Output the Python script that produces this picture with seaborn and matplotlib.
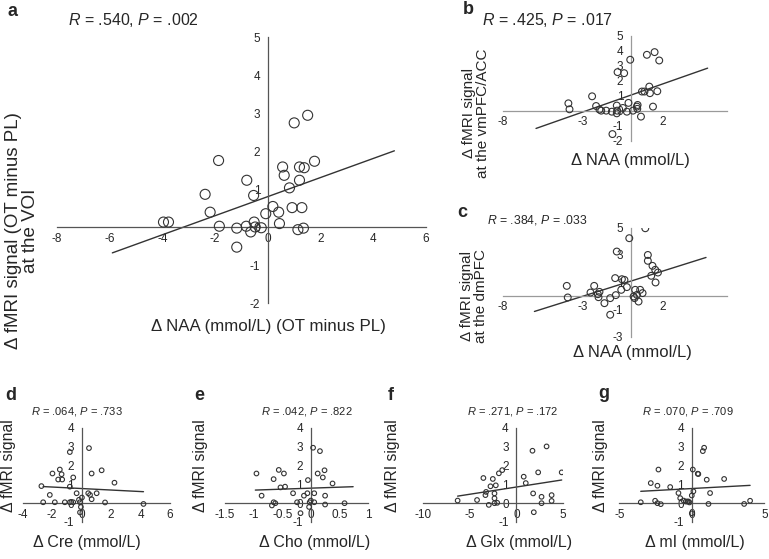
import numpy as np
import matplotlib
matplotlib.use("Agg")
import matplotlib.pyplot as plt
import seaborn as sns

# Panel a: NAA vs fMRI signal at the VOI
a_x = [-3.96, -3.77, -2.38, -2.19, -1.87, -1.84, -1.18, -1.18, -0.80, -0.82, -0.54, -0.52, -0.65, -0.48, -0.25, -0.08,
       0.19, 0.41, 0.44, 0.56, 0.62, 0.82, 0.92, 1.00, 1.14, 1.20, 1.20, 1.29, 1.35, 1.38, 1.51, 1.77]
a_y = [0.13, 0.13, 0.86, 0.39, 1.75, 0.02, -0.03, -0.53, 1.23, 0.02, 0.83, 0.13, -0.13, 0.00, -0.02, 0.35,
       0.54, 0.39, 0.09, 1.58, 1.36, 1.03, 0.51, 2.74, -0.07, 1.58, 1.23, 0.51, -0.03, 1.56, 2.94, 1.73]
a_fit = [0.251, 0.80]          # slope, intercept
a_fit_x = [-5.9, 4.8]

# Panel b: vmPFC/ACC
b_x = [-3.90, -3.83, -2.42, -2.17, -1.96, -1.85, -1.54, -1.19, -0.88, -0.88, -1.15, -0.83, -0.42, -0.50, -0.25, -0.15,
       -0.04, 0.13, 0.38, 0.42, 0.63, 0.69, 0.85, 1.00, 1.15, 1.19, 1.38, 1.48, 1.65, 1.77, 0.40, -0.86]
b_y = [0.49, 0.09, 0.96, 0.31, 0.07, 0.00, 0.00, -0.07, 0.34, -0.18, -1.57, 2.58, 2.51, 0.18, -0.07, 0.52,
       3.41, 0.00, 0.27, 0.38, -0.40, 1.28, 1.28, 3.74, 1.61, 1.17, 0.27, 3.92, 1.30, 3.36, 0.12, 0.00]
b_fit = [0.377, 1.04]
b_fit_x = [-5.92, 4.79]

# Panel c: dmPFC
c_x = [-4.00, -3.94, -2.52, -2.29, -2.06, -1.96, -2.02, -1.65, -1.29, -1.29, -0.98, -0.94, -0.88, -0.60, -0.56, -0.40,
       -0.25, -0.10, 0.17, 0.27, 0.23, 0.38, 0.48, 0.58, 0.73, 0.90, 1.06, 1.06, 1.27, 1.35, 1.52, 1.54, 1.69]
c_y = [0.73, -0.12, 0.24, 0.73, 0.12, 0.29, -0.10, -0.54, -0.17, -1.39, 1.30, 0.05, 3.25, 0.44, 1.22, 1.17,
       0.64, 4.23, -0.05, 0.44, -0.17, 0.07, -0.42, 0.44, 0.20, 4.96, 3.00, 2.57, 1.47, 2.20, 1.91, 0.98, 1.71]
c_fit = [0.37, 1.08]
c_fit_x = [-6.02, 4.69]

# Panel d: Cre
d_x = [-2.61, -1.82, -1.14, -0.80, -0.57, -0.11, -0.18, -2.16, -2.73, -1.98, -1.48, -1.36, -1.59, -1.32, -0.80, -0.57,
       -0.80, -0.34, 0.50, 0.68, 1.36, 2.23, 0.45, 0.57, 1.02, 0.68, 1.59, 4.20, -0.11, -0.05, 0.02]
d_y = [0.05, 0.05, 0.05, 0.05, 0.05, 0.05, 0.18, 0.44, 0.91, 1.58, 1.79, 1.54, 1.26, 1.26, 0.88, 1.37,
       2.72, 0.53, 2.93, 1.58, 1.75, 1.09, 0.53, 0.44, 0.53, 0.21, 0.04, -0.04, -0.49, -0.20, 0.30]
d_fit = [-0.04, 0.78]
d_fit_x = [-2.61, 4.2]

# Panel e: Cho
e_x = [-0.95, -0.86, -0.68, -0.65, -0.65, -0.56, -0.47, -0.53, -0.45, -0.31, -0.24, -0.18, -0.12, -0.06, -0.05,
       0.00, 0.04, 0.06, 0.06, 0.12, 0.16, 0.21, 0.24, 0.25, 0.25, 0.38, 0.59, -0.02, -0.03, -0.62]
e_y = [1.58, 0.40, -0.12, 0.05, 1.28, 1.77, 1.58, 0.84, 0.88, 0.53, 0.05, -0.53, 0.40, 0.53, 1.23,
       0.14, 2.95, 0.53, 0.05, 1.58, 2.77, 1.37, 1.75, 0.40, -0.07, 1.05, 0.00, 0.05, -0.20, 0.00]
e_fit = [0.105, 0.80]
e_fit_x = [-0.97, 0.74]

# Panel f: Glx
f_x = [-6.29, -4.21, -3.53, -3.31, -3.24, -2.95, -2.77, -2.52, -2.34, -2.34, -2.34, -1.87, -1.51,
       0.79, 1.01, 1.80, 1.87, 1.73, 2.34, 2.70, 2.70, 3.24, 3.78, 3.78, 4.86, -2.20, -2.05]
f_y = [0.14, 0.17, 1.34, 0.43, 0.60, -0.09, 0.90, 1.29, 0.00, 0.52, 0.26, 1.59, 1.76,
       1.41, 1.07, 0.52, -0.48, 2.79, 1.64, 0.34, 0.00, 3.02, 0.43, 0.12, 1.64, 0.95, 0.02]
f_fit = [0.077, 0.86]
f_fit_x = [-6.29, 4.86]

# Panel g: mI
g_x = [-3.52, -2.53, -2.37, -2.14, -2.30, -2.83, -2.37, -1.49, -0.92, -0.80, -0.57, -0.41, -0.30, -0.16, 0.00,
       0.11, 0.07, 0.00, 0.41, 0.45, 0.76, 0.85, 1.03, 1.15, 1.26, 2.23, 3.61, 4.02, -0.23]
g_y = [0.05, 0.13, 0.00, -0.05, 1.79, 1.07, 0.93, 0.86, 0.54, 0.27, 0.14, 0.09, 0.09, 0.04, 0.41,
       0.63, 1.79, -0.54, 1.57, 1.55, 2.77, 2.95, 1.25, -0.04, 0.54, 1.29, -0.04, 0.13, 0.09]
g_fit = [0.042, 0.78]
g_fit_x = [-3.52, 4.02]

# Style
sns.set_theme(style="white")
plt.rcParams['font.family'] = ['Liberation Sans', 'DejaVu Sans']
plt.rcParams['mathtext.fontset'] = 'custom'
plt.rcParams['mathtext.rm'] = 'Liberation Sans'
plt.rcParams['mathtext.it'] = 'Liberation Sans:italic'
plt.rcParams['axes.unicode_minus'] = False

TXT = '#262626'
W, H = 769, 559

fig = plt.figure(figsize=(W / 100, H / 100), dpi=100)


def axes_px(left, top, right, bottom):
    return fig.add_axes([left / W, 1 - bottom / H, (right - left) / W, (bottom - top) / H])


def text_px(x, y, s, **kw):
    fig.text(x / W, 1 - y / H, s, color=TXT, **kw)


def draw_panel(ax, xs, ys, fit, fit_x, xlim, ylim, xticks, yticks, msize, spine_col, tick_fs):
    ax.set_facecolor('none')
    sns.scatterplot(x=xs, y=ys, ax=ax, s=msize, facecolor='none', edgecolor='#333333', linewidth=0.8, zorder=3)
    fx = np.array(fit_x)
    ax.plot(fx, fit[0] * fx + fit[1], color='#333333', lw=1.0, zorder=2)
    ax.set_xlim(xlim)
    ax.set_ylim(ylim)
    ax.set_xticks(xticks)
    ax.set_yticks(yticks)
    ax.xaxis.set_major_formatter(matplotlib.ticker.FuncFormatter(lambda v, p: f'{v:g}'))
    ax.yaxis.set_major_formatter(matplotlib.ticker.FuncFormatter(lambda v, p: f'{v:g}'))
    for side in ['top', 'right']:
        ax.spines[side].set_visible(False)
    ax.spines['left'].set_position(('data', 0))
    ax.spines['bottom'].set_position(('data', 0))
    for side in ['left', 'bottom']:
        ax.spines[side].set_color(spine_col)
        ax.spines[side].set_linewidth(0.9)
    ax.tick_params(axis='both', direction='out', length=2.5, width=0.8, color=spine_col,
                   labelsize=tick_fs, labelcolor=TXT, pad=1.5)
    ax.tick_params(axis='y', pad=3)
    ax.grid(False)


# a
ax_a = axes_px(57, 37, 426, 303)
draw_panel(ax_a, a_x, a_y, a_fit, a_fit_x, (-8, 6), (-2, 5), range(-8, 7, 2), range(-2, 6), 52, '#555555', 8.5)
# b
ax_b = axes_px(502.7, 36, 727, 140.5)
draw_panel(ax_b, b_x, b_y, b_fit, b_fit_x, (-8, 6), (-2, 5), [-8, -3, 2], range(-2, 6), 24, '#9a9a9a', 8.5)
# c
ax_c = axes_px(502.7, 227.7, 727, 336.7)
draw_panel(ax_c, c_x, c_y, c_fit, c_fit_x, (-8, 6), (-3, 5), [-8, -3, 2], [-3, -1, 1, 3, 5], 24, '#9a9a9a', 8.5)
# d
ax_d = axes_px(22.7, 428, 170, 522)
draw_panel(ax_d, d_x, d_y, d_fit, d_fit_x, (-4, 6), (-1, 4), range(-4, 7, 2), range(-1, 5), 11, '#555555', 8.5)
# e
ax_e = axes_px(225, 428, 368, 522)
draw_panel(ax_e, e_x, e_y, e_fit, e_fit_x, (-1.5, 1), (-1, 4), [-1.5, -1, -0.5, 0, 0.5, 1], range(-1, 5), 11, '#555555', 8.5)
# f
ax_f = axes_px(423, 428, 563, 522)
draw_panel(ax_f, f_x, f_y, f_fit, f_fit_x, (-10, 5), (-1, 4), [-10, -5, 0, 5], range(-1, 5), 11, '#555555', 8.5)
# g
ax_g = axes_px(619.3, 428, 764.3, 522)
draw_panel(ax_g, g_x, g_y, g_fit, g_fit_x, (-5, 5), (-1, 4), [-5, 0, 5], range(-1, 5), 11, '#555555', 8.5)

# Panel letters
for letter, (x, y) in {'a': (7, 12), 'b': (463, 10), 'c': (457, 213),
                       'd': (5, 395), 'e': (194, 395), 'f': (388, 395), 'g': (598, 393)}.items():
    text_px(x, y, letter, fontsize=13, fontweight='bold', ha='left', va='center')

# Correlation texts
text_px(68, 20, '$R$ = .540, $P$ = .002', fontsize=11.5, ha='left', va='center')
text_px(482, 20, '$R$ = .425, $P$ = .017', fontsize=11.5, ha='left', va='center')
text_px(487, 220, '$R$ = .384, $P$ = .033', fontsize=8.8, ha='left', va='center')
for x, s in [(77, '$R$ = .064, $P$ = .733'), (307, '$R$ = .042, $P$ = .822'),
             (513, '$R$ = .271, $P$ = .172'), (688, '$R$ = .070, $P$ = .709')]:
    text_px(x, 411, s, fontsize=8, ha='center', va='center')

# Axis labels
text_px(22, 231, 'Δ fMRI signal (OT minus PL)\nat the VOI', fontsize=13.5, rotation=90,
        ha='center', va='center', linespacing=1.05, multialignment='center')
text_px(268, 327, 'Δ NAA (mmol/L) (OT minus PL)', fontsize=12.2, ha='center', va='center')

text_px(476, 113, 'Δ fMRI signal\nat the vmPFC/ACC', fontsize=11, rotation=90,
        ha='center', va='center', linespacing=1.05, multialignment='center')
text_px(630, 160, 'Δ NAA (mmol/L)', fontsize=12, ha='center', va='center')

text_px(474, 296, 'Δ fMRI signal\nat the dmPFC', fontsize=11, rotation=90,
        ha='center', va='center', linespacing=1.05, multialignment='center')
text_px(632, 353, 'Δ NAA (mmol/L)', fontsize=12, ha='center', va='center')

for x_lab, x_ax, s in [(9, 87, 'Δ Cre (mmol/L)'), (201, 315, 'Δ Cho (mmol/L)'),
                       (392, 519, 'Δ Glx (mmol/L)'), (601, 695, 'Δ mI (mmol/L)')]:
    text_px(x_lab, 466, 'Δ fMRI signal', fontsize=11.3, rotation=90, ha='center', va='center')
    text_px(x_ax, 543, s, fontsize=11.5, ha='center', va='center')

fig.savefig('out.png', dpi=100)
